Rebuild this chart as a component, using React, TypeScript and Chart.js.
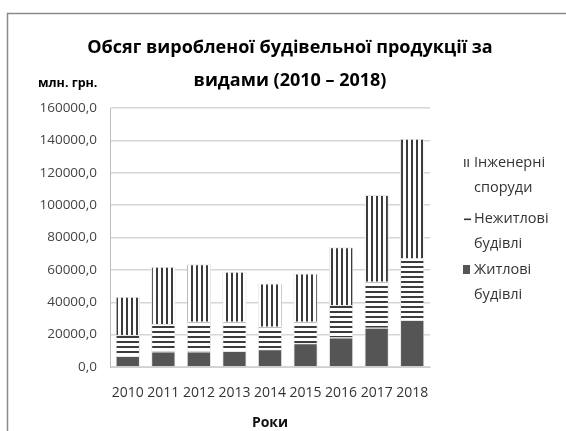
import React, { useEffect, useRef } from "react";
import { Chart, registerables } from "chart.js";

Chart.register(...registerables);

const years = ["2010", "2011", "2012", "2013", "2014", "2015", "2016", "2017", "2018"];
const residential = [6800, 9500, 9500, 9900, 10900, 14600, 18300, 24300, 29000];
const nonResidential = [12900, 17000, 18500, 18100, 14000, 13400, 20000, 28400, 38000];
const engineering = [23700, 35400, 35400, 30800, 26700, 29800, 35600, 53500, 74000];

const titleLines = ["Обсяг виробленої будівельної продукції за", "видами (2010 – 2018)"];
const unitLabel = "млн. грн.";
const xAxisTitle = "Роки";
const legendLabels = [
  ["Інженерні", "споруди"],
  ["Нежитлові", "будівлі"],
  ["Житлові", "будівлі"],
];

const FONT = "'Open Sans', 'Noto Sans', sans-serif";

function makePattern(vertical: boolean): CanvasPattern | string {
  const c = document.createElement("canvas");
  c.width = 5;
  c.height = 5;
  const g = c.getContext("2d");
  if (!g) return "#666";
  g.fillStyle = "#ffffff";
  g.fillRect(0, 0, 5, 5);
  g.fillStyle = "#3c3c3c";
  if (vertical) g.fillRect(1, 0, 2, 5);
  else g.fillRect(0, 1, 5, 2);
  const p = g.createPattern(c, "repeat");
  return p || "#666";
}

export default function App() {
  const ref = useRef<HTMLCanvasElement | null>(null);

  useEffect(() => {
    if (!ref.current) return;
    const hPat = makePattern(false);
    const vPat = makePattern(true);

    const decor = {
      id: "decor",
      afterDraw(chart: any) {
        const ctx = chart.ctx as CanvasRenderingContext2D;
        ctx.save();
        // frame
        ctx.strokeStyle = "#8a8a8a";
        ctx.lineWidth = 1.5;
        ctx.strokeRect(7.5, 13.5, 700, 600);
        // title
        ctx.fillStyle = "#000";
        ctx.textAlign = "center";
        ctx.textBaseline = "middle";
        ctx.font = `bold 18px ${FONT}`;
        ctx.fillText(titleLines[0], 290, 48);
        ctx.fillText(titleLines[1], 290, 81);
        // unit label
        ctx.font = `bold 12.5px ${FONT}`;
        ctx.textAlign = "left";
        ctx.fillText(unitLabel, 38, 83);
        // legend
        const ys = [163, 219, 270];
        ctx.font = `14.5px ${FONT}`;
        for (let i = 0; i < legendLabels.length; i++) {
          const y = ys[i];
          ctx.fillStyle = "#333";
          ctx.fillText(legendLabels[i][0], 474, y);
          ctx.fillText(legendLabels[i][1], 474, y + 25);
          if (i === 0) {
            ctx.fillStyle = "#555";
            ctx.fillRect(464, y - 4, 1.5, 8);
            ctx.fillRect(467.5, y - 4, 1.5, 8);
          } else if (i === 1) {
            ctx.fillStyle = "#333";
            ctx.fillRect(464, y - 0.5, 7, 1.6);
          } else {
            ctx.fillStyle = "#555555";
            ctx.fillRect(463, y - 5, 7, 9);
          }
        }
        ctx.restore();
      },
    };

    const common = {
      borderColor: "#e6e6e6",
      borderWidth: 1,
      barPercentage: 0.72,
      categoryPercentage: 0.95,
    };

    const chart = new Chart(ref.current, {
      type: "bar",
      data: {
        labels: years,
        datasets: [
          { label: "Житлові будівлі", data: residential, backgroundColor: "#555555", ...common },
          { label: "Нежитлові будівлі", data: nonResidential, backgroundColor: hPat as any, ...common },
          { label: "Інженерні споруди", data: engineering, backgroundColor: vPat as any, ...common },
        ],
      },
      options: {
        responsive: false,
        animation: false,
        layout: { padding: { top: 108, right: 136, bottom: 0, left: 0 } },
        plugins: {
          legend: { display: false },
          title: { display: false },
          tooltip: { enabled: false },
        },
        scales: {
          x: {
            stacked: true,
            grid: { display: false, drawTicks: false },
            border: { display: true, color: "#d0d0d0", width: 1 },
            ticks: {
              color: "#333",
              font: { family: FONT, size: 14 },
              padding: 18,
              maxRotation: 0,
              autoSkip: false,
            },
            title: {
              display: true,
              text: xAxisTitle,
              color: "#111",
              font: { family: FONT, size: 14, weight: "bold" },
              padding: { top: 0, bottom: 0 },
            },
            afterFit: (s: any) => {
              s.height = 64;
            },
          },
          y: {
            stacked: true,
            min: 0,
            max: 160000,
            grid: { color: "#d6d6d6", lineWidth: 1.5, drawTicks: false },
            border: { display: true, color: "#bdbdbd", width: 1 },
            ticks: {
              stepSize: 20000,
              color: "#444",
              font: { family: FONT, size: 13.5 },
              padding: 13,
              callback: (v: any) => Number(v).toFixed(1).replace(".", ","),
            },
            afterFit: (s: any) => {
              s.width = 110;
            },
          },
        },
      },
      plugins: [decor],
    });
    return () => chart.destroy();
  }, []);

  return (
    <div style={{ position: "absolute", left: 0, top: 0, width: 566, height: 431, background: "#fff" }}>
      <canvas ref={ref} width={566} height={431} />
    </div>
  );
}
